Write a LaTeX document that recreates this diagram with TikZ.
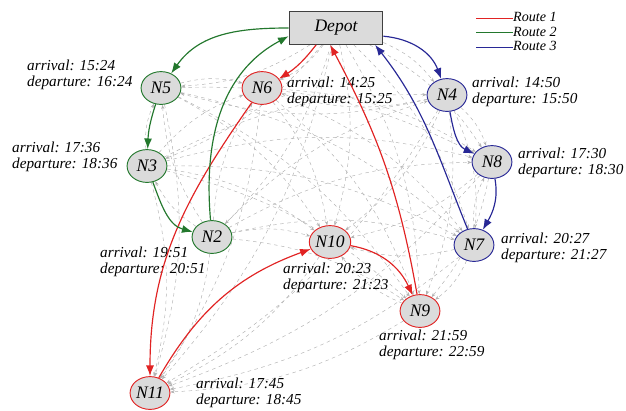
\documentclass[tikz,border=0pt]{standalone}
\usepackage{fontspec}
\setmainfont{Liberation Serif}
\usetikzlibrary{arrows.meta,shapes.geometric,backgrounds}
\definecolor{routeA}{RGB}{225,35,35}
\definecolor{routeB}{RGB}{35,120,45}
\definecolor{routeC}{RGB}{40,40,150}

\begin{document}
\begin{tikzpicture}[
  x=0.03cm,y=-0.03cm,
  font=\fontsize{13}{14}\selectfont\itshape,
  cust/.style={ellipse,thick,fill=black!14,minimum width=34pt,minimum height=28pt,inner sep=0pt,font=\fontsize{15}{15}\selectfont\itshape},
  depot/.style={rectangle,draw=black!75,thick,fill=black!14,minimum width=80pt,minimum height=28pt,inner sep=0pt,font=\fontsize{15}{15}\selectfont\itshape},
  rA/.style={-{Latex[length=3.2mm,width=2.4mm]},line width=1pt,routeA},
  rB/.style={-{Latex[length=3.2mm,width=2.4mm]},line width=1pt,routeB},
  rC/.style={-{Latex[length=3.2mm,width=2.4mm]},line width=1pt,routeC},
  link/.style={dashed,black!30,thin,-{Stealth[length=1.3mm]}},
  lab/.style={align=left,inner sep=0pt,anchor=west},
  key/.style={lab,font=\fontsize{12}{12}\selectfont\itshape,text height=7pt,text depth=0.5pt},
]
\useasboundingbox (0,0) rectangle (626,410);
\node[depot] (Depot) at (336,28) {Depot};
\node[cust,draw=routeB] (N5) at (161,88) {N5};
\node[cust,draw=routeA] (N6) at (262,88) {N6};
\node[cust,draw=routeC] (N4) at (447,95) {N4};
\node[cust,draw=routeB] (N3) at (147,166) {N3};
\node[cust,draw=routeC] (N8) at (492,162) {N8};
\node[cust,draw=routeB] (N2) at (212,237) {N2};
\node[cust,draw=routeA] (N10) at (330,242) {N10};
\node[cust,draw=routeC] (N7) at (474,245) {N7};
\node[cust,draw=routeA] (N9) at (420,311) {N9};
\node[cust,draw=routeA] (N11) at (150,393) {N11};
\node[lab] (t5) at (27,75) {arrival: 15:24\\departure: 16:24};
\node[lab] (t6) at (287,92) {arrival: 14:25\\departure: 15:25};
\node[lab] (t4) at (472,92) {arrival: 14:50\\departure: 15:50};
\node[lab] (t3) at (12,157) {arrival: 17:36\\departure: 18:36};
\node[lab] (t8) at (518,163) {arrival: 17:30\\departure: 18:30};
\node[lab] (t2) at (100,262) {arrival: 19:51\\departure: 20:51};
\node[lab] (t10) at (283,278) {arrival: 20:23\\departure: 21:23};
\node[lab] (t7) at (501,248) {arrival: 20:27\\departure: 21:27};
\node[lab] (t9) at (379,345) {arrival: 21:59\\departure: 22:59};
\node[lab] (t11) at (196,393) {arrival: 17:45\\departure: 18:45};
\begin{scope}[on background layer]
\foreach \a [count=\i] in {Depot,N2,N3,N4,N5,N6,N7,N8,N9,N10,N11}
  \foreach \b [count=\j] in {Depot,N2,N3,N4,N5,N6,N7,N8,N9,N10,N11}
    {\ifnum\j>\i \draw[link] (\a) to[bend left=14] (\b); \fi}
\end{scope}
\draw[rA] ([xshift=-17pt]Depot.south) to[bend left=10] (N6);
\draw[rA] (N6) to[out=235,in=90] (N11);
\draw[rA] (N11) to[out=60,in=200] (N10);
\draw[rA] (N10) to[out=-10,in=115] (N9);
\draw[rA] (N9) to[out=100,in=-62] ([xshift=-5pt]Depot.south);
\draw[rB] (Depot.west) to[out=180,in=55] (N5);
\draw[rB] (N5) to[bend right=8] (N3);
\draw[rB] (N3) to[out=-70,in=165] (N2);
\draw[rB] (N2) to[out=95,in=208] ([yshift=-7pt]Depot.west);
\draw[rC] ([yshift=-7pt]Depot.east) to[out=-5,in=110] (N4);
\draw[rC] (N4) to[out=-80,in=155] (N8);
\draw[rC] (N8) to[out=-80,in=60] (N7);
\draw[rC] (N7) to[out=112,in=-52] ([xshift=-7pt]Depot.south east);
\coordinate (k1) at (476,18);
\coordinate (k2) at (476,32.5);
\coordinate (k3) at (476,47);
\node[key] (r1) at (513,18) {Route 1};
\node[key] (r2) at (513,32.5) {Route 2};
\node[key] (r3) at (513,47) {Route 3};
\draw[thick,routeA] (k1) -- (r1.west);
\draw[thick,routeB] (k2) -- (r2.west);
\draw[thick,routeC] (k3) -- (r3.west);
\end{tikzpicture}
\end{document}
